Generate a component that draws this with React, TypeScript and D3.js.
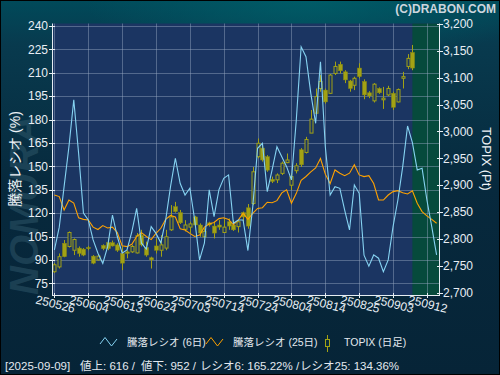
import React from "react";
import * as d3 from "d3";

// 騰落レシオ (6日 / 25日) と TOPIX 日足

const tickDates = ["250526", "250604", "250613", "250624", "250703", "250714", "250724", "250804", "250814", "250825", "250903", "250912"];
const tickIndex = [0, 7, 14, 21, 28, 35, 42, 49, 56, 63, 70, 77];

const ratio6 = [
  96.4, 111, 137, 162.6, 192.6, 158.4, 120, 115.6, 102.8, 94.3,
  87.8, 98.5, 118.8, 105, 94.3, 96.4, 108, 123, 100.7, 97,
  111.3, 107, 101, 115.6, 137, 155.2, 139, 131.6, 136, 115.6,
  90, 100.7, 134.9, 117.7, 134.9, 142.3, 144.5, 113.5, 115.6, 115.6,
  96, 124, 161.6, 164.8, 133.8, 147.7, 162.6, 156.2, 149.8, 141.3,
  179.7, 226.7, 220.3, 196.8, 177.6, 217.1, 162.6, 131.6, 137, 135.9,
  122, 109.2, 138, 132.7, 93, 86, 93.2, 91.1, 82.5, 90,
  111.3, 128.4, 149.8, 175.9, 165.22, 147.7, 148.8, 128.4, 111.3, 93.2,
];

const ratio25 = [
  131.6, 130.6, 122, 128.4, 126.5, 117, 116, 115.6, 111, 109.5,
  112, 110.5, 111, 107.5, 99, 98.5, 100, 105, 107.5, 105,
  103, 107, 110.3, 116, 118.5, 117.5, 110, 109.2, 107, 105,
  106, 111, 113, 114, 116.5, 117, 116, 112.5, 115.5, 120,
  116, 119.9, 123, 123.5, 127, 126.7, 128, 133, 135, 126.3,
  132.7, 141, 143.5, 146.5, 149, 155, 145, 139, 147.7, 145.6,
  144, 145.6, 151, 144.5, 143.4, 144, 139, 128.4, 128.4, 131.6,
  133.8, 134.4, 133.1, 132.3, 134.36, 126.3, 121, 118.2, 116, 113.5,
];

const topixOpen = [
  2739, 2748, 2792, 2786, 2779, 2783, 2781, 2784, 2768, 2761,
  2788, 2793, 2793, 2789, 2773, 2776, 2776, 2774, 2807, 2784,
  2765, 2787, 2779, 2783, 2817, 2860, 2849, 2818, 2822, 2841,
  2826, 2804, 2830, 2824, 2826, 2812, 2832, 2826, 2823, 2849,
  2858, 2866, 2953, 2969, 2953, 2911, 2910, 2922, 2942, 2900,
  2927, 2966, 2961, 2997, 3034, 3080, 3077, 3071, 3108, 3125,
  3111, 3094, 3086, 3118, 3093, 3072, 3057, 3080, 3059, 3068,
  3071, 3055, 3099, 3121, 3147,
];
const topixHigh = [
  2755, 2773, 2798, 2814, 2801, 2786, 2783, 2787, 2770, 2770,
  2790, 2801, 2797, 2792, 2786, 2779, 2789, 2811, 2817, 2795,
  2767, 2801, 2807, 2817, 2863, 2869, 2854, 2835, 2832, 2843,
  2829, 2820, 2832, 2832, 2835, 2838, 2838, 2835, 2835, 2851,
  2865, 2934, 2987, 2975, 2956, 2916, 2922, 2944, 2959, 2922,
  2941, 2969, 2990, 3040, 3080, 3105, 3080, 3107, 3130, 3130,
  3114, 3096, 3102, 3127, 3097, 3075, 3090, 3082, 3083, 3085,
  3074, 3080, 3111, 3144, 3161,
];
const topixLow = [
  2737, 2745, 2766, 2784, 2770, 2767, 2768, 2779, 2753, 2760,
  2779, 2779, 2786, 2776, 2742, 2764, 2774, 2773, 2786, 2767,
  2745, 2773, 2767, 2779, 2815, 2849, 2828, 2814, 2811, 2826,
  2804, 2804, 2823, 2801, 2817, 2811, 2817, 2815, 2812, 2832,
  2819, 2863, 2950, 2944, 2925, 2904, 2904, 2919, 2941, 2891,
  2922, 2934, 2959, 2997, 3034, 3074, 3052, 3070, 3105, 3108,
  3090, 3074, 3077, 3099, 3060, 3062, 3054, 3070, 3042, 3066,
  3040, 3054, 3080, 3116, 3114,
];
const topixClose = [
  2752, 2767, 2767, 2812, 2799, 2773, 2770, 2782, 2755, 2768,
  2782, 2782, 2787, 2779, 2755, 2773, 2786, 2806, 2789, 2770,
  2761, 2779, 2789, 2804, 2841, 2851, 2830, 2826, 2828, 2826,
  2811, 2814, 2826, 2811, 2822, 2822, 2824, 2817, 2832, 2841,
  2824, 2925, 2978, 2947, 2928, 2907, 2919, 2941, 2947, 2916,
  2936, 2938, 2985, 3023, 3065, 3093, 3055, 3105, 3121, 3113,
  3096, 3080, 3099, 3102, 3068, 3066, 3088, 3072, 3062, 3080,
  3045, 3078, 3102, 3136, 3118,
];

const ratioTicks = [75, 90, 105, 120, 135, 150, 165, 180, 195, 210, 225, 240];
const topixTicks = [2700, 2750, 2800, 2850, 2900, 2950, 3000, 3050, 3100, 3150, 3200];

const legendLabels = ["騰落レシオ (6日)", "騰落レシオ (25日)", "TOPIX (日足)"];
const footerParts = ["[2025-09-09]", "値上: 616 /", "値下: 952 /", "レシオ6: 165.22% /", "レシオ25: 134.36%"];
const footerX = [5, 80, 141, 200, 300];

const W = 500;
const H = 375;
const plot = { left: 52, right: 439, top: 23.5, bottom: 295 };
const FONT = "'Liberation Sans', 'Noto Sans CJK JP', sans-serif";
const C6 = "#86d3f2";
const C25 = "#ffa200";
const CANDLE = "#a2a214";

export default function App() {
  const x = d3.scaleLinear().domain([-0.5, 79.5]).range([plot.left, plot.right]);
  const yL = d3.scaleLinear().domain([75, 240]).range([283.3, 26]);
  const yR = d3.scaleLinear().domain([2700, 3200]).range([292.7, 24]);
  const fmt = d3.format(",");

  const line = d3.line<number>().x((_, i) => x(i)).y((d) => yL(d));
  const lastIdx = topixClose.length - 1;
  const px = (v: number) => Math.round(v) + 0.5;

  return (
    <svg width={W} height={H} style={{ position: "absolute", left: 0, top: 0 }} fontFamily={FONT}>
      <defs>
        <linearGradient id="bg" x1="0" y1="0" x2="0" y2="1">
          <stop offset="0" stopColor="#004a5a" />
          <stop offset="0.12" stopColor="#083a4e" />
          <stop offset="0.5" stopColor="#07293d" />
          <stop offset="1" stopColor="#062437" />
        </linearGradient>
        <radialGradient id="glow" cx="0.62" cy="0" r="0.45">
          <stop offset="0" stopColor="#00606a" stopOpacity="0.8" />
          <stop offset="1" stopColor="#00606a" stopOpacity="0" />
        </radialGradient>
      </defs>
      <rect width={W} height={H} fill="url(#bg)" />
      <rect width={W} height={H * 0.4} fill="url(#glow)" />

      {/* watermark */}
      <text
        transform="translate(38,205) rotate(-90)"
        textAnchor="middle"
        fontSize={40}
        fontWeight="bold"
        fontStyle="italic"
        fill="#3b6577"
        opacity={0.4}
      >
        NOMURA
      </text>

      <text x={496} y={13} textAnchor="end" fontSize={12} fontWeight="bold" fill="#cdd6de">
        (C)DRABON.COM
      </text>

      {/* plot area */}
      <rect x={plot.left} y={plot.top} width={plot.right - plot.left} height={plot.bottom - plot.top} fill="#1b3562" />
      <rect x={x(lastIdx)} y={plot.top} width={plot.right - x(lastIdx)} height={plot.bottom - plot.top} fill="#064a3c" />

      {/* grid */}
      {ratioTicks.map((t) => (
        <line key={"gh" + t} x1={plot.left} x2={plot.right} y1={px(yL(t))} y2={px(yL(t))} stroke="#9aa8c4" strokeOpacity={0.45} />
      ))}
      {tickIndex.map((t) => (
        <line key={"gv" + t} x1={px(x(t))} x2={px(x(t))} y1={plot.top} y2={plot.bottom} stroke="#9aa8c4" strokeOpacity={0.45} />
      ))}

      {/* candles */}
      {topixClose.map((c, i) => {
        const o = topixOpen[i];
        const up = c >= o;
        const cx = px(x(i));
        const top = yR(Math.max(o, c));
        const bot = yR(Math.min(o, c));
        return (
          <g key={"c" + i}>
            <line x1={cx} x2={cx} y1={yR(topixHigh[i])} y2={yR(topixLow[i])} stroke={CANDLE} />
            {up ? (
              <rect x={cx - 1.5} y={top} width={3} height={Math.max(1, bot - top)} fill="#1b3562" stroke={CANDLE} />
            ) : (
              <rect x={cx - 2} y={top} width={4} height={Math.max(1, bot - top)} fill={CANDLE} stroke="#8a8a10" strokeWidth={0.5} />
            )}
          </g>
        );
      })}

      <path d={line(ratio25) || ""} fill="none" stroke={C25} strokeWidth={1.1} />
      <path d={line(ratio6) || ""} fill="none" stroke={C6} strokeWidth={1.1} />

      {/* axes */}
      <line x1={plot.left + 0.5} x2={plot.left + 0.5} y1={plot.top} y2={plot.bottom} stroke="#e6edf3" />
      <line x1={plot.right + 0.5} x2={plot.right + 0.5} y1={plot.top} y2={plot.bottom} stroke="#e6edf3" />
      <line x1={plot.left} x2={plot.right + 1} y1={plot.bottom + 0.5} y2={plot.bottom + 0.5} stroke="#e6edf3" />

      {ratioTicks.map((t) => (
        <g key={"lt" + t}>
          <line x1={49} x2={55} y1={px(yL(t))} y2={px(yL(t))} stroke="#e6edf3" />
          <text x={48} y={yL(t)} dy="0.35em" textAnchor="end" fontSize={12} fill="#e8eef4">
            {t}
          </text>
        </g>
      ))}
      {topixTicks.map((t) => (
        <g key={"rt" + t}>
          <line x1={437} x2={443} y1={px(yR(t))} y2={px(yR(t))} stroke="#e6edf3" />
          <text x={443} y={yR(t)} dy="0.35em" fontSize={12} fill="#e8eef4">
            {fmt(t)}
          </text>
        </g>
      ))}
      {tickIndex.map((t, k) => (
        <g key={"bt" + t}>
          <line x1={px(x(t))} x2={px(x(t))} y1={plot.bottom - 2} y2={plot.bottom + 3} stroke="#e6edf3" />
          <text
            transform={`translate(${x(t) + 1},${plot.bottom + 9}) rotate(14)`}
            textAnchor="middle"
            dy="0.35em"
            fontSize={12}
            fill="#e8eef4"
          >
            {tickDates[k]}
          </text>
        </g>
      ))}

      <text transform="translate(15,159) rotate(-90)" textAnchor="middle" dy="0.35em" fontSize={14} fill="#eef2f6">
        騰落レシオ (%)
      </text>
      <text transform="translate(487,159) rotate(90)" textAnchor="middle" dy="0.35em" fontSize={13} fill="#eef2f6">
        TOPIX (Pt)
      </text>

      {/* legend */}
      <polyline points="100,344 105,337.5 111.5,346 117,339" fill="none" stroke={C6} />
      <text x={127} y={346} fontSize={10.5} fill="#e3e9ef">{legendLabels[0]}</text>
      <polyline points="206,344 211,337.5 217.5,346 223,339" fill="none" stroke={C25} />
      <text x={233} y={346} fontSize={10.5} fill="#e3e9ef">{legendLabels[1]}</text>
      <line x1={327.5} x2={327.5} y1={335} y2={352} stroke={CANDLE} />
      <rect x={325.5} y={339.5} width={4} height={7} fill="#062a3c" stroke={CANDLE} />
      <text x={344} y={346} fontSize={10.5} fill="#e3e9ef">{legendLabels[2]}</text>

      {/* footer */}
      {footerParts.map((s, i) => (
        <text key={"f" + i} x={footerX[i]} y={370} fontSize={11.5} fill="#e3e9ef">
          {s}
        </text>
      ))}

      <rect x={0.5} y={0.5} width={W - 1} height={H - 1} fill="none" stroke="#000" />
    </svg>
  );
}
